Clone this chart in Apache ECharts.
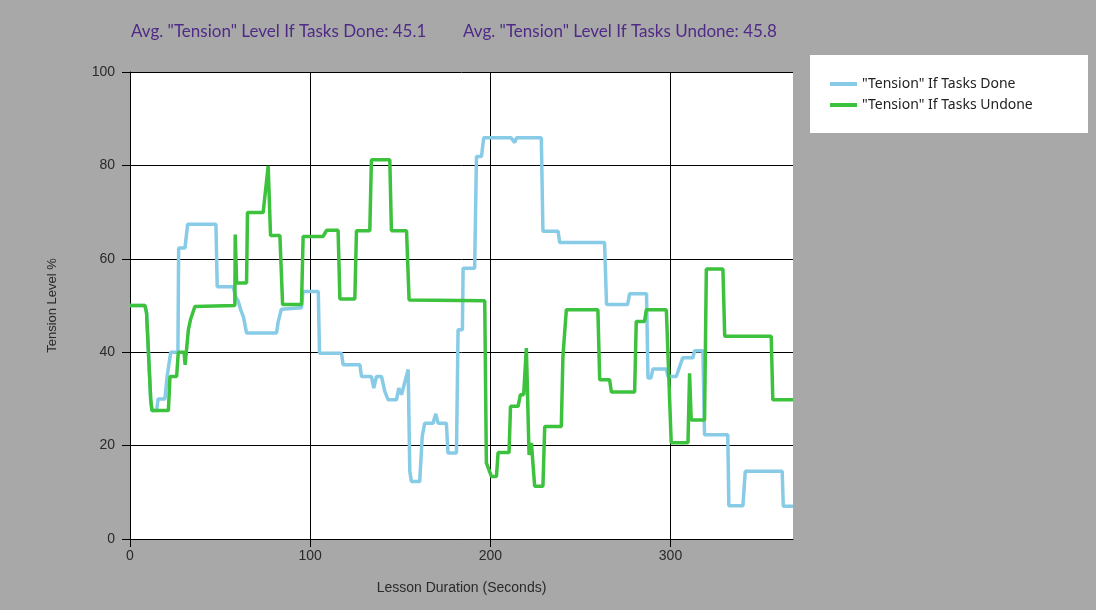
<!DOCTYPE html>
<html><head><meta charset="utf-8">
<script src="https://cdn.jsdelivr.net/npm/echarts@6/dist/echarts.min.js"></script>
<style>html,body{margin:0;padding:0;background:#a8a8a8}#c{width:1096px;height:610px}</style>
</head><body><div id="c"></div>
<script>
// "Tension" If Tasks Done (seconds, level %)
const doneTime = [0,8.3,9.2,11.5,12.2,14.8,15.6,19.4,20.6,22.6,26.6,27,30.5,32,47.7,48.4,57.3,58.5,60,61.5,63,64.7,81.3,82.3,84,84.8,95.2,96,104.5,105.2,117.4,118.3,127.6,128.5,134,135.3,136.8,139.6,141.4,143.3,147.9,149.2,150.7,154.4,155.3,156.2,160.8,162.2,163.6,168.2,169.7,171,175.6,176.5,181.2,182.1,184.5,184.9,191.3,192.3,195.1,196.3,211.5,213.5,214.5,228.3,229.2,237.6,238.5,263.4,264.5,276.2,277.3,286.7,287.5,289.2,290.2,297.7,298.6,303.2,305,306.8,312.4,313.4,318,318.9,331.8,332.4,340.2,341.5,362,362.6,368];
const doneLevel = [50,50,48.4,29.8,27.5,27.5,30,30,34.8,40,40,62.3,62.3,67.4,67.4,54,54,52,51,49,47.5,44.1,44.1,46.6,49.2,49.5,49.5,53,53,39.8,39.8,37.3,37.3,34.8,34.8,32.3,34.8,34.8,31.6,29.8,29.8,32.3,30.9,36.3,14.5,12.3,12.3,22,24.8,24.8,26.8,24.8,24.8,18.4,18.4,44.8,44.8,58,58,81.9,81.9,85.9,85.9,84.9,85.9,85.9,65.9,65.9,63.5,63.5,50.2,50.2,52.5,52.5,34.5,34.5,36.4,36.4,34.8,34.8,36.8,38.8,38.8,40.3,40.3,22.3,22.3,7.1,7.1,14.5,14.5,7,7];

// "Tension" If Tasks Undone
const undoneTime = [0,8.3,9.2,11.5,12.2,21.3,22.2,25.9,26.8,30,30.6,31.4,32.4,33.6,36,36.5,58.2,58.4,59.2,64.7,65.2,73.9,76.7,78,83.2,84.7,95.2,96.1,107.2,109.1,115.5,116.5,124.8,125.7,133.1,134,144.2,145.1,153.5,154.9,196.9,197.8,200.6,203.4,204.3,210.4,211.2,215.4,216.7,218.5,220,221.5,222.8,224.6,229.2,230.2,239.4,240.3,242.2,259.7,260.7,266.2,267.2,280.1,281,285.6,286.6,297.7,300.4,309.7,310.6,311.5,318.9,319.9,329.1,330.1,355.9,356.8,368];
const undoneLevel = [50,50,48.4,29.8,27.5,27.5,34.8,34.8,40,40,37.3,37.3,44.8,47,49.8,50,50,65.2,54.8,54.8,69.9,69.9,79.9,65,65,50.2,50.2,64.8,64.8,66.1,66.1,51.4,51.4,66,66,81.2,81.2,66,66,51.2,51,16.3,13.4,13.4,18.5,18.5,28.4,28.4,30.9,30.9,40.9,18,20.6,11.3,11.3,24.1,24.1,39.1,49.1,49.1,34.1,34.1,31.5,31.5,46.6,46.6,49.1,49.1,20.6,20.6,35.5,25.5,25.5,57.8,57.8,43.4,43.4,29.8,29.8];

const xTicks = [0,100,200,300];
const seriesNames = ['"Tension" If Tasks Done', '"Tension" If Tasks Undone'];
const headerTexts = ['Avg. "Tension" Level If Tasks Done: 45.1', 'Avg. "Tension" Level If Tasks Undone: 45.8'];
const xName = 'Lesson Duration (Seconds)';
const yName = 'Tension Level %';

const pairs = (xs, ys) => xs.map((x, i) => [x, ys[i]]);

const chart = echarts.init(document.getElementById('c'), null, {renderer: 'canvas'});
const tickFont = {fontFamily: 'Liberation Sans', fontSize: 14, color: '#2a2a2a'};
const headStyle = {fontFamily: 'Lato', fontSize: 17, fontWeight: 'normal', color: '#4f2a87'};
chart.setOption({
  animation: false,
  backgroundColor: '#a8a8a8',
  title: [
    {text: headerTexts[0], left: 126, top: 18, textStyle: headStyle},
    {text: headerTexts[1], left: 458, top: 18, textStyle: headStyle}
  ],
  graphic: [{type: 'rect', left: 810, top: 55, shape: {width: 278, height: 78}, style: {fill: '#ffffff'}, z: 0}],
  legend: {
    orient: 'vertical', left: 830, top: 76, padding: 0,
    itemWidth: 27, itemHeight: 4, itemGap: 5, icon: 'rect',
    textStyle: {fontFamily: 'Noto Sans', fontSize: 14, color: '#222', lineHeight: 16},
    data: seriesNames, z: 5
  },
  grid: {left: 130, top: 72, right: 303, bottom: 71, backgroundColor: '#ffffff', show: true, borderWidth: 0},
  xAxis: {
    type: 'value', min: 0, max: 368, interval: 100,
    name: xName, nameLocation: 'middle', nameGap: 42,
    nameTextStyle: {fontFamily: 'Liberation Sans', fontSize: 14, color: '#2a2a2a'},
    axisLine: {show: true, lineStyle: {color: '#000', width: 1}},
    axisTick: {show: true, length: 8, lineStyle: {color: '#000'}, customValues: xTicks},
    axisLabel: Object.assign({margin: 10, customValues: xTicks}, tickFont),
    splitLine: {show: true, lineStyle: {color: ['#000','#000','#000','#000','rgba(0,0,0,0)'], width: 1}}
  },
  yAxis: {
    type: 'value', min: 0, max: 100, interval: 20,
    name: yName, nameLocation: 'middle', nameGap: 71, nameRotate: 90,
    nameTextStyle: {fontFamily: 'Liberation Sans', fontSize: 13, color: '#2a2a2a'},
    axisLine: {show: true, lineStyle: {color: '#000', width: 1}},
    axisTick: {show: true, length: 8, lineStyle: {color: '#000'}},
    axisLabel: Object.assign({margin: 15}, tickFont),
    splitLine: {show: true, lineStyle: {color: '#000', width: 1}}
  },
  series: [
    {name: seriesNames[0], type: 'line', data: pairs(doneTime, doneLevel), showSymbol: false, symbol: 'none',
     lineStyle: {color: '#87cbe6', width: 3.5}, itemStyle: {color: '#87cbe6'}, z: 2},
    {name: seriesNames[1], type: 'line', data: pairs(undoneTime, undoneLevel), showSymbol: false, symbol: 'none',
     lineStyle: {color: '#3cc23c', width: 3.5}, itemStyle: {color: '#3cc23c'}, z: 3}
  ]
});
</script></body></html>
